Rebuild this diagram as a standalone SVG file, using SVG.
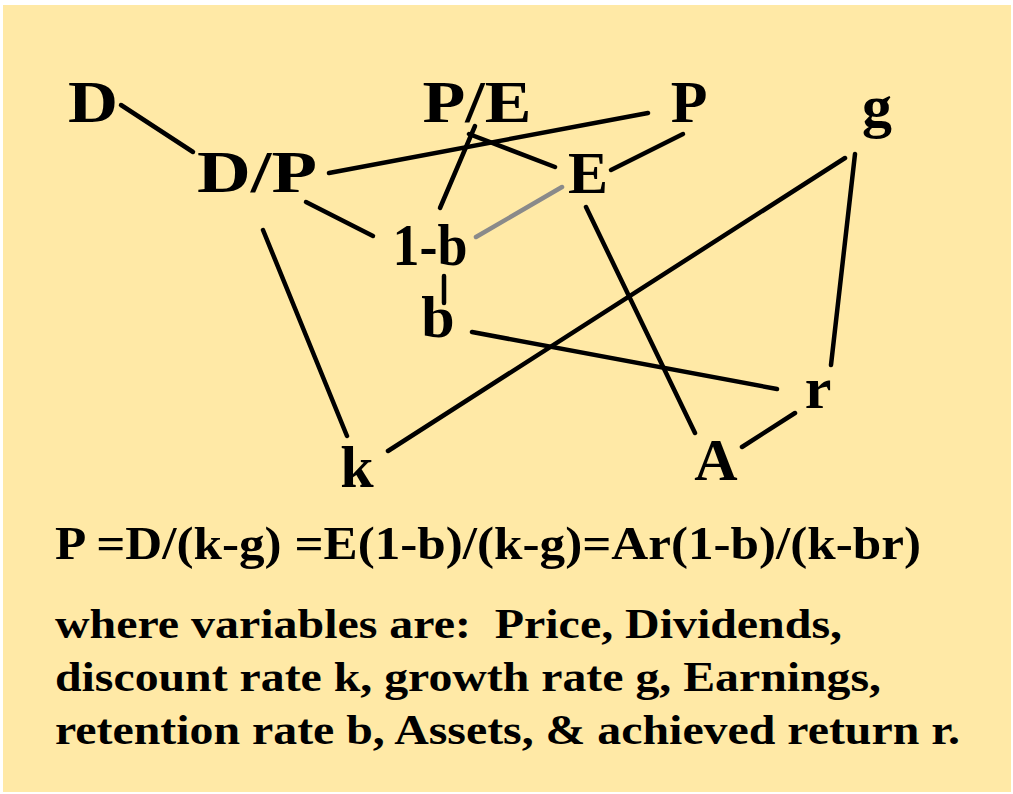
<svg xmlns="http://www.w3.org/2000/svg" width="1013" height="794" viewBox="0 0 1013 794">
<style>
.bg{fill:#FFE9A6}
.n{font-family:"Liberation Serif","Times New Roman",serif;font-weight:bold;font-size:60px;fill:#000;text-anchor:middle}
.t{font-family:"Liberation Serif","Times New Roman",serif;font-weight:bold;fill:#000}
.e{stroke:#000;stroke-width:4.5;stroke-linecap:round}
.g{stroke:#8a8a8a;stroke-width:4.5;stroke-linecap:round}
</style>
<rect x="0" y="0" width="1013" height="794" fill="#fff"/>
<rect class="bg" x="3" y="5" width="1008" height="787"/>
<g id="connectors">
<line class="e" x1="121" y1="105" x2="193" y2="152"/>
<line class="e" x1="329" y1="173" x2="648" y2="113"/>
<line class="e" x1="306" y1="202" x2="373" y2="236"/>
<line class="e" x1="440" y1="208" x2="475" y2="126"/>
<line class="e" x1="469" y1="134" x2="555" y2="167"/>
<line class="e" x1="611" y1="170" x2="683" y2="134"/>
<line class="g" x1="476" y1="237" x2="562" y2="187"/>
<line class="e" x1="586" y1="207" x2="695" y2="433"/>
<line class="e" x1="845" y1="158" x2="388" y2="451"/>
<line class="e" x1="855" y1="154" x2="831" y2="365"/>
<line class="e" x1="263" y1="230" x2="347" y2="436"/>
<line class="e" x1="444" y1="276" x2="444" y2="303"/>
<line class="e" x1="472" y1="332" x2="777" y2="389"/>
<line class="e" x1="742" y1="447" x2="795" y2="413"/>
</g>
<g id="node-D"><text class="n" x="93" y="122" textLength="50" lengthAdjust="spacingAndGlyphs">D</text></g>
<g id="node-PE"><text class="n" x="477" y="122" textLength="109" lengthAdjust="spacingAndGlyphs">P/E</text></g>
<g id="node-P"><text class="n" x="689" y="122">P</text></g>
<g id="node-g"><text class="n" x="877" y="126">g</text></g>
<g id="node-DP"><text class="n" x="257" y="192" textLength="120" lengthAdjust="spacingAndGlyphs">D/P</text></g>
<g id="node-E"><text class="n" x="588" y="193">E</text></g>
<g id="node-1b"><text class="n" x="430" y="265" textLength="75" lengthAdjust="spacingAndGlyphs">1-b</text></g>
<g id="node-b"><text class="n" x="438" y="337">b</text></g>
<g id="node-k"><text class="n" x="357" y="487">k</text></g>
<g id="node-r"><text class="n" x="818" y="408">r</text></g>
<g id="node-A"><text class="n" x="716" y="480">A</text></g>
<g id="caption">
<text class="t" x="55" y="559" font-size="46" textLength="866" lengthAdjust="spacingAndGlyphs">P =D/(k-g) =E(1-b)/(k-g)=Ar(1-b)/(k-br)</text>
<text class="t" x="55" y="638" font-size="42" textLength="787" lengthAdjust="spacingAndGlyphs" xml:space="preserve">where variables are:  Price, Dividends,</text>
<text class="t" x="55" y="691" font-size="42" textLength="826" lengthAdjust="spacingAndGlyphs">discount rate k, growth rate g, Earnings,</text>
<text class="t" x="55" y="744" font-size="42" textLength="905" lengthAdjust="spacingAndGlyphs">retention rate b, Assets, &amp; achieved return r.</text>
</g>
</svg>
